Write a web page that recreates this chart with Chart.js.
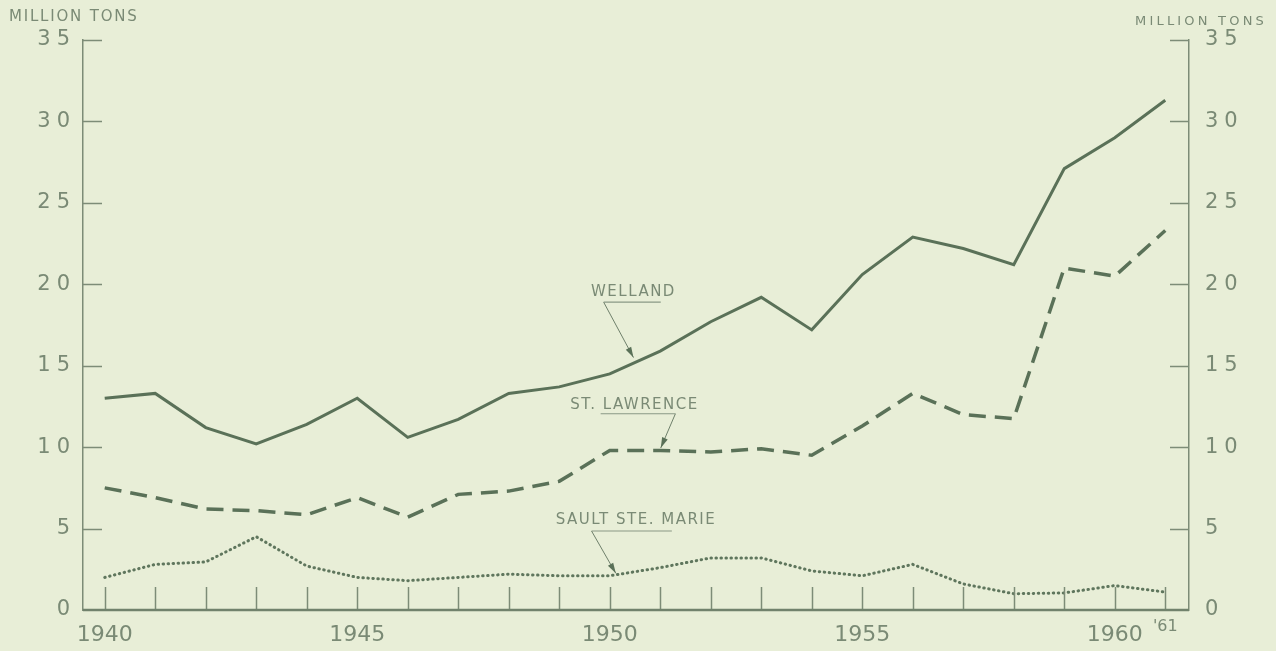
<!DOCTYPE html>
<html>
<head>
<meta charset="utf-8">
<script src="https://cdn.jsdelivr.net/npm/chart.js@4/dist/chart.umd.min.js"></script>
<style>
  html, body { margin: 0; padding: 0; background: #e8eed7; }
  #wrap { width: 1276px; height: 651px; position: relative; }
</style>
</head>
<body>
<div id="wrap"><canvas id="chart"></canvas></div>
<script>
// Tonnage through the canals, 1940-1961 (million tons)
const years = [1940, 1941, 1942, 1943, 1944, 1945, 1946, 1947, 1948, 1949, 1950,
               1951, 1952, 1953, 1954, 1955, 1956, 1957, 1958, 1959, 1960, 1961];
const welland = [13.0, 13.3, 11.2, 10.2, 11.4, 13.0, 10.6, 11.7, 13.3, 13.7, 14.5,
                 15.9, 17.7, 19.2, 17.2, 20.6, 22.9, 22.2, 21.2, 27.1, 29.0, 31.3];
const stLawrence = [7.5, 6.9, 6.2, 6.1, 5.85, 6.9, 5.7, 7.1, 7.3, 7.9, 9.8,
                    9.8, 9.7, 9.9, 9.5, 11.3, 13.3, 12.0, 11.75, 21.0, 20.5, 23.3];
const saultSteMarie = [2.0, 2.8, 2.95, 4.5, 2.7, 2.0, 1.8, 2.0, 2.2, 2.1, 2.1,
                       2.6, 3.2, 3.2, 2.4, 2.1, 2.8, 1.6, 1.0, 1.05, 1.5, 1.1];

const tickYears = [1940, 1945, 1950, 1955, 1960, 1961];
const tickLabels = ['1940', '1945', '1950', '1955', '1960', "'61"];
const yTicks = [0, 5, 10, 15, 20, 25, 30, 35];
const axisTitle = 'MILLION TONS';

// line labels: text, text anchor (year, value), underline from/to, arrow tip
const labelNames = ['WELLAND', 'ST. LAWRENCE', 'SAULT STE. MARIE'];
const labelPos = [[1950.47, 19.5], [1950.49, 12.6], [1950.52, 5.5]];
const underlineFrom = [[1949.88, 18.9], [1949.82, 12.05], [1949.64, 4.85]];
const underlineTo = [[1951.01, 18.9], [1951.30, 12.05], [1951.23, 4.85]];
const arrowFrom = [[1949.88, 18.9], [1951.30, 12.05], [1949.64, 4.85]];
const arrowTip = [[1950.47, 15.5], [1951.01, 9.95], [1950.12, 2.25]];

const ink = '#5a7158';
const textInk = '#7a8a75';
const paper = '#e8eed7';

const toPoints = arr => arr.map((v, i) => ({ x: years[i], y: v }));

// spaced-out digits on the value axes only
const spaceLabels = (scale, spacing) => {
    if (scale._spaced) return;
    const orig = scale.drawLabels.bind(scale);
    scale.drawLabels = function (area) {
        const c = this.ctx;
        c.save();
        c.letterSpacing = spacing;
        orig(area);
        c.restore();
    };
    scale._spaced = true;
};

const decorPlugin = {
    id: 'decor',
    afterLayout(chart) {
        spaceLabels(chart.scales.y, '6px');
        spaceLabels(chart.scales.y2, '6px');
    },
    beforeDraw(chart) {
        const c = chart.ctx;
        c.save();
        c.fillStyle = paper;
        c.fillRect(0, 0, chart.width, chart.height);
        c.restore();
    },
    afterDatasetsDraw(chart) {
        const c = chart.ctx;
        const xs = chart.scales.x, ys = chart.scales.y;
        const a = chart.chartArea;
        c.save();
        c.strokeStyle = '#7d8c77';
        // inward year ticks on the baseline
        c.lineWidth = 1.5;
        years.forEach(yr => {
            const px = Math.round(xs.getPixelForValue(yr)) + 0.5;
            c.beginPath();
            c.moveTo(px, a.bottom);
            c.lineTo(px, a.bottom - 23);
            c.stroke();
        });
        // inward value ticks on both sides
        yTicks.forEach(v => {
            if (v === 0) return;
            const py = Math.round(ys.getPixelForValue(v)) + 0.5;
            c.beginPath();
            c.moveTo(a.left, py);
            c.lineTo(a.left + 19, py);
            c.moveTo(a.right, py);
            c.lineTo(a.right - 19, py);
            c.stroke();
        });
        // heavier baseline
        c.strokeStyle = '#71826c';
        c.lineWidth = 2.5;
        c.beginPath();
        c.moveTo(a.left, a.bottom);
        c.lineTo(a.right, a.bottom);
        c.stroke();

        // line labels with leaders
        c.fillStyle = textInk;
        c.font = '15px "DejaVu Sans"';
        c.textAlign = 'center';
        c.textBaseline = 'middle';
        c.letterSpacing = '1.5px';
        labelNames.forEach((name, i) => {
            const tx = xs.getPixelForValue(labelPos[i][0]);
            const ty = ys.getPixelForValue(labelPos[i][1]);
            c.fillText(name, tx, ty);
            c.strokeStyle = '#8a9886';
            c.lineWidth = 1.2;
            c.beginPath();
            c.moveTo(xs.getPixelForValue(underlineFrom[i][0]), ys.getPixelForValue(underlineFrom[i][1]));
            c.lineTo(xs.getPixelForValue(underlineTo[i][0]), ys.getPixelForValue(underlineTo[i][1]));
            c.stroke();
            const x0 = xs.getPixelForValue(arrowFrom[i][0]), y0 = ys.getPixelForValue(arrowFrom[i][1]);
            const x1 = xs.getPixelForValue(arrowTip[i][0]), y1 = ys.getPixelForValue(arrowTip[i][1]);
            c.strokeStyle = '#6f806b';
            c.lineWidth = 1;
            c.beginPath();
            c.moveTo(x0, y0);
            c.lineTo(x1, y1);
            c.stroke();
            const ang = Math.atan2(y1 - y0, x1 - x0);
            c.fillStyle = ink;
            c.beginPath();
            c.moveTo(x1, y1);
            c.lineTo(x1 - 11 * Math.cos(ang - 0.28), y1 - 11 * Math.sin(ang - 0.28));
            c.lineTo(x1 - 11 * Math.cos(ang + 0.28), y1 - 11 * Math.sin(ang + 0.28));
            c.closePath();
            c.fill();
            c.fillStyle = textInk;
        });

        // axis titles
        c.textBaseline = 'middle';
        c.letterSpacing = '1.8px';
        c.font = '15px "DejaVu Sans"';
        c.textAlign = 'left';
        c.fillText(axisTitle, 9, 17);
        c.letterSpacing = '3.2px';
        c.font = '13px "DejaVu Sans"';
        c.fillText(axisTitle, 1135, 22);
        c.restore();
    }
};

const ctx = document.getElementById('chart').getContext('2d');
new Chart(ctx, {
    type: 'line',
    data: {
        datasets: [
            {
                label: 'Welland',
                data: toPoints(welland),
                borderColor: ink,
                borderWidth: 3,
                pointRadius: 0,
                tension: 0,
                fill: false
            },
            {
                label: 'St. Lawrence',
                data: toPoints(stLawrence),
                borderColor: ink,
                borderWidth: 3.5,
                borderDash: [17, 9],
                pointRadius: 0,
                tension: 0,
                fill: false
            },
            {
                label: 'Sault Ste. Marie',
                data: toPoints(saultSteMarie),
                borderColor: '#5f765d',
                borderWidth: 3,
                borderDash: [0.5, 4.5],
                borderCapStyle: 'round',
                pointRadius: 0,
                tension: 0,
                fill: false
            }
        ]
    },
    options: {
        responsive: true,
        maintainAspectRatio: false,
        animation: false,
        layout: { padding: { top: 40, left: 0, right: 0, bottom: 0 } },
        plugins: {
            legend: { display: false },
            tooltip: { enabled: false }
        },
        scales: {
            x: {
                type: 'linear',
                min: 1939.57,
                max: 1961.47,
                afterBuildTicks: scale => { scale.ticks = tickYears.map(v => ({ value: v })); },
                afterFit: scale => { scale.height = 41; },
                grid: { display: false, drawTicks: false },
                border: { display: false },
                ticks: {
                    autoSkip: false,
                    maxRotation: 0,
                    padding: 12,
                    color: textInk,
                    font: c => (c.index === 5
                        ? { family: '"DejaVu Sans"', size: 16, lineHeight: 0.625 }
                        : { family: '"DejaVu Sans"', size: 22, lineHeight: 1.2 }),
                    callback: (value, index) => tickLabels[index]
                }
            },
            y: {
                position: 'left',
                min: 0,
                max: 35,
                afterBuildTicks: scale => { scale.ticks = yTicks.map(v => ({ value: v })); },
                afterFit: scale => { scale.width = 83; },
                grid: { display: false, drawTicks: false },
                border: { display: true, color: '#7d8c77', width: 1.5 },
                ticks: {
                    padding: 7,
                    color: textInk,
                    font: { family: '"DejaVu Sans"', size: 21 },
                    callback: v => String(v)
                }
            },
            y2: {
                position: 'right',
                min: 0,
                max: 35,
                afterBuildTicks: scale => { scale.ticks = yTicks.map(v => ({ value: v })); },
                afterFit: scale => { scale.width = 87; },
                grid: { display: false, drawTicks: false },
                border: { display: true, color: '#7d8c77', width: 1.5 },
                ticks: {
                    padding: 16,
                    color: textInk,
                    font: { family: '"DejaVu Sans"', size: 21 },
                    callback: v => String(v)
                }
            }
        }
    },
    plugins: [decorPlugin]
});
</script>
</body>
</html>
